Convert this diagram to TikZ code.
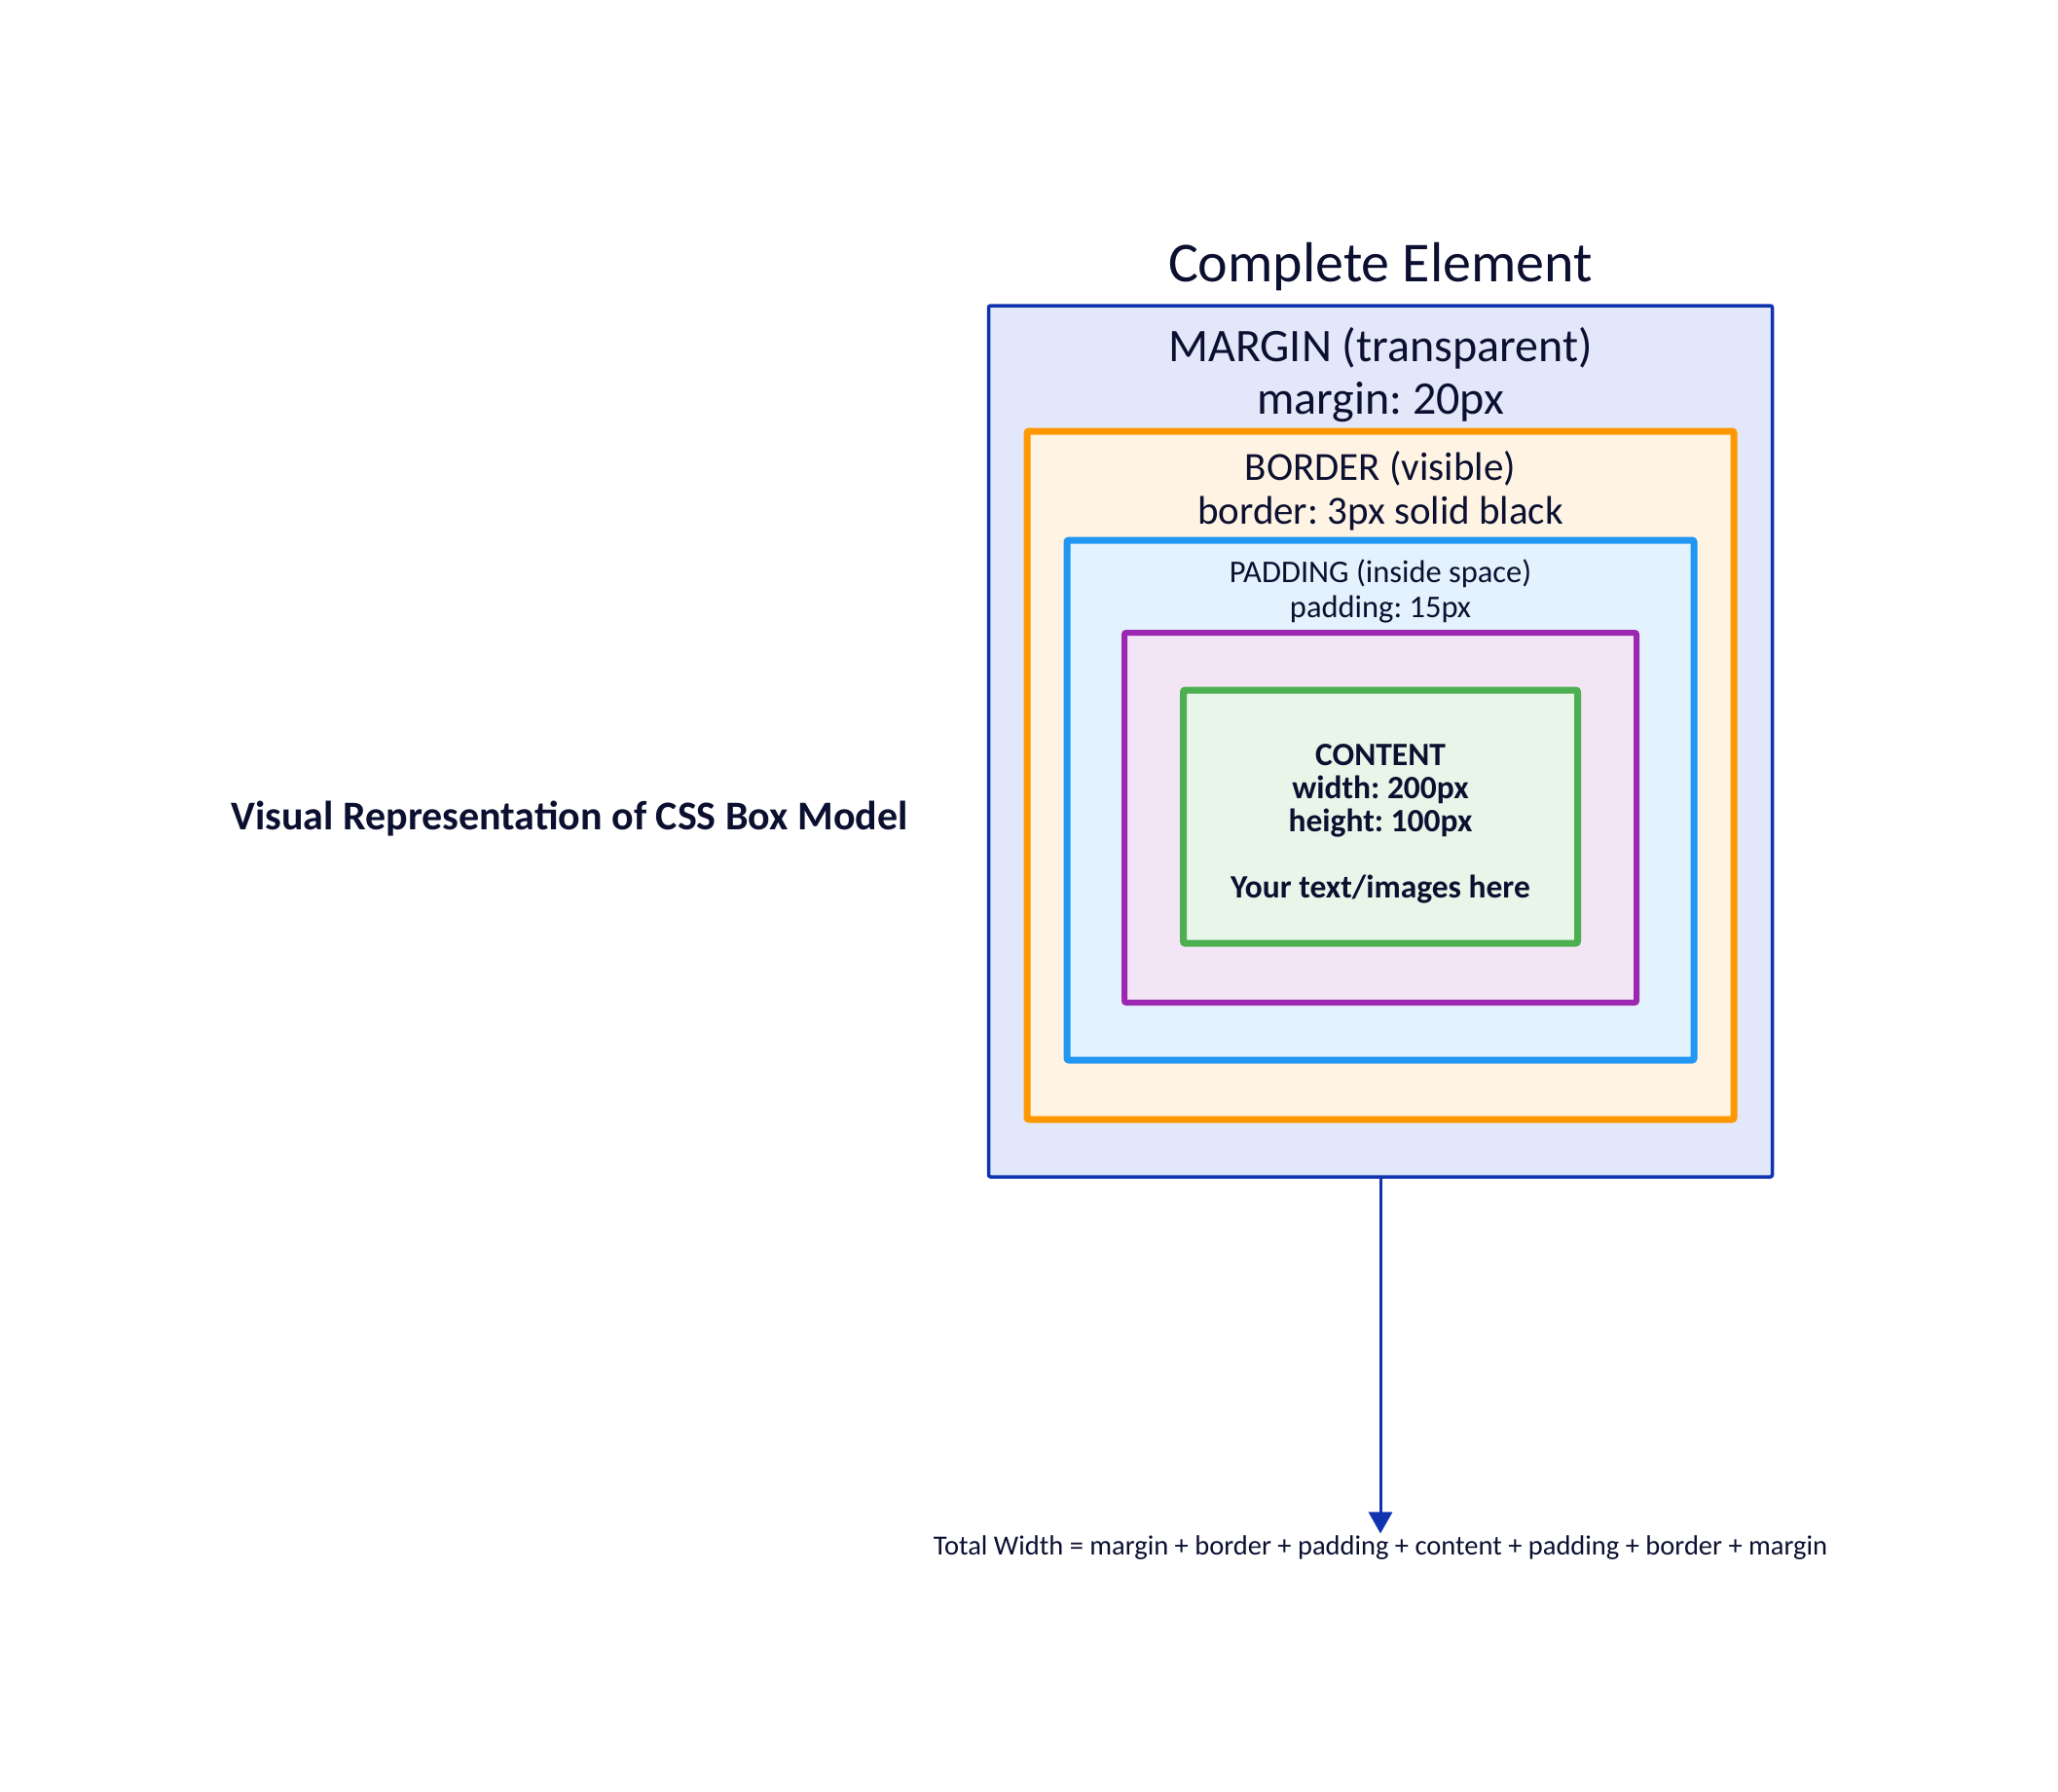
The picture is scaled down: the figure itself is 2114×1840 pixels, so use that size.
\documentclass[tikz,border=0pt]{standalone}
\usepackage{fontspec}
\setmainfont{Carlito}
\usetikzlibrary{arrows.meta}
\definecolor{BoxInk}{HTML}{0B1030}
\definecolor{MarginLine}{HTML}{1034B0}
\definecolor{MarginFill}{HTML}{E2E7FA}
\definecolor{BorderLine}{HTML}{FF9800}
\definecolor{BorderFill}{HTML}{FFF3E3}
\definecolor{PaddingLine}{HTML}{2196F3}
\definecolor{PaddingFill}{HTML}{E3F2FD}
\definecolor{InnerLine}{HTML}{9C27B0}
\definecolor{InnerFill}{HTML}{F3E5F5}
\definecolor{ContentLine}{HTML}{4CAF50}
\definecolor{ContentFill}{HTML}{E8F5E9}
\frenchspacing

\begin{document}
\begin{tikzpicture}[x=1pt,y=-1pt,>=Triangle,
  layer/.style={rounded corners=2pt,inner sep=0pt},
  boxtext/.style={text=BoxInk,align=center,inner sep=2pt}]
  \useasboundingbox (0,0) rectangle (2114,1840);
  % nested boxes, outermost first
  \foreach \name/\col/\w/\h/\cy/\lw in {margin/Margin/805/895/761.5/3.5,border/Border/726/707/796.5/7,
      padding/Padding/644/534/822/7,inner/Inner/526/380/840/6,content/Content/405/260/839/7}{
    \node[layer,line width=\lw pt,draw=\col Line,fill=\col Fill,
      minimum width=\w pt,minimum height=\h pt] (\name box) at (1418,\cy) {};
  }
  \node[boxtext,font=\fontsize{58}{64}\selectfont] (title) at (1418,274) {Complete Element};
  \node[boxtext,font=\fontsize{48}{54}\selectfont] (margintext) at (1418,385)
    {MARGIN (transparent)\\margin: 20px};
  \node[boxtext,font=\fontsize{41}{45}\selectfont] (bordertext) at (1418,504)
    {BORDER (visible)\\border: 3px solid black};
  \node[boxtext,font=\fontsize{32.5}{36}\selectfont] (paddingtext) at (1418,607)
    {PADDING (inside space)\\padding: 15px};
  \node[boxtext,font=\bfseries\fontsize{33.5}{34}\selectfont] (contenttext) at (1418,846)
    {CONTENT\\width: 200px\\height: 100px\\[34pt]Your text/images here};
  \node[boxtext,font=\bfseries\fontsize{42}{46}\selectfont] (caption) at (585,841)
    {Visual Representation of CSS Box Model};
  \node[boxtext,font=\fontsize{28.5}{32}\selectfont] (total) at (1418,1590)
    {Total Width = margin + border + padding + content + padding + border + margin};
  \draw[->,MarginLine,line width=3pt,>={Triangle[width=24pt,length=22pt]}]
    (marginbox.south) -- (total.north);
\end{tikzpicture}
\end{document}
